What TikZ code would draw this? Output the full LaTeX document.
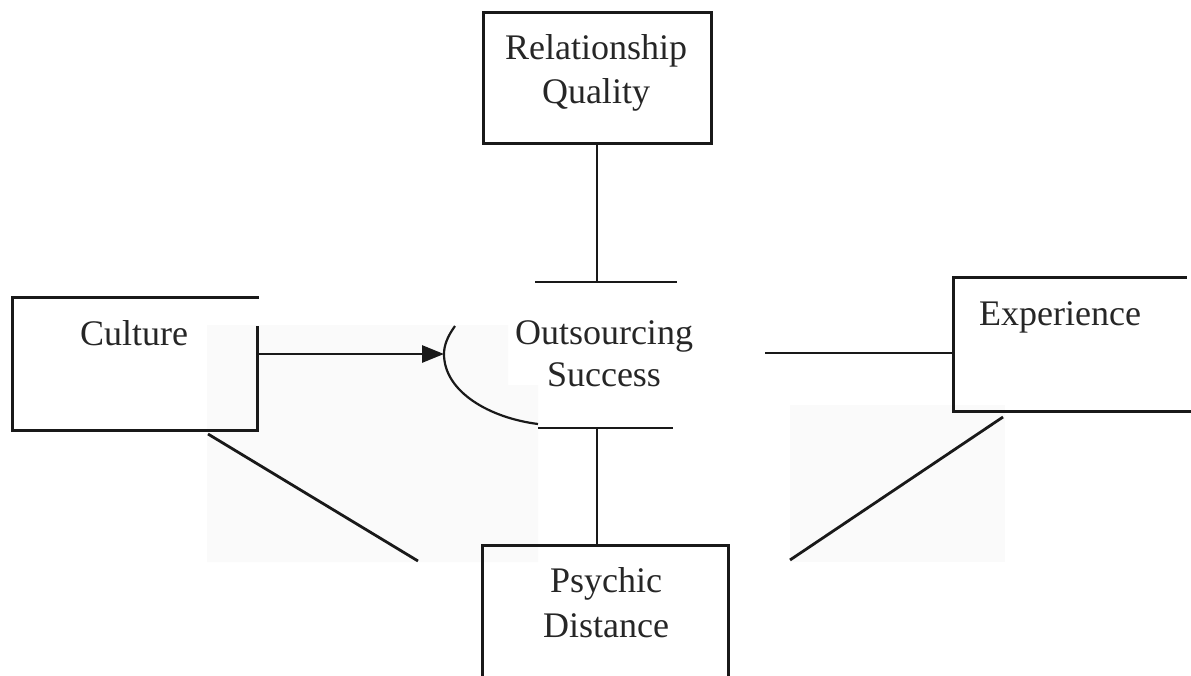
\documentclass[tikz,border=0pt]{standalone}
\usepackage{fontspec}
\setmainfont{Liberation Serif}
\usetikzlibrary{arrows.meta}
\begin{document}
\begin{tikzpicture}[x=1pt,y=-1pt,
  boxline/.style={line width=3pt,line cap=rect,black!90},
  conn/.style={line width=2.8pt,black!90},
  patch/.style={fill=black!2,draw=none},
  lbl/.style={anchor=base,inner sep=0pt,font=\fontsize{36}{44}\selectfont,text=black!85}]
\useasboundingbox (0,0) rectangle (1191,675);
% faint background patches
\fill[patch] (207,325) -- (508,325) -- (508,385) -- (538,385) -- (538,562) -- (207,562) -- cycle;
\fill[patch] (790,405) rectangle (1005,562);
% Relationship Quality box
\draw[boxline] (483,12) rectangle (711,143);
\coordinate (rqb) at (597,143);
\node[lbl] (rq1) at (596,59) {Relationship};
\node[lbl] (rq2) at (596,103) {Quality};
% Culture box (partial)
\draw[boxline] (257,297) -- (12,297) -- (12,430) -- (257,430) -- (257,327);
\coordinate (cr) at (257,354);
\coordinate (cbl) at (208,434);
\node[lbl] (cu) at (134,345) {Culture};
% Experience box (partial)
\draw[boxline] (1185,277) -- (953,277) -- (953,411) -- (1191,411);
\coordinate (el) at (953,353);
\coordinate (ebl) at (1003,417);
\node[lbl] (ex) at (1060,325) {Experience};
% Psychic Distance box (cut at the bottom)
\draw[boxline] (482,680) -- (482,545) -- (728,545) -- (728,680);
\coordinate (pt) at (597,545);
\node[lbl] (pd1) at (606,592) {Psychic};
\node[lbl] (pd2) at (606,637) {Distance};
% Outsourcing Success
\node[lbl] (os1) at (604,344) {Outsourcing};
\node[lbl] (os2) at (604,386) {Success};
\coordinate (tbl) at (535,282);
\coordinate (tbr) at (677,282);
\coordinate (ttop) at (597,282);
\coordinate (bbl) at (538,428);
\coordinate (bbr) at (673,428);
\coordinate (bbot) at (597,428);
\coordinate (arcTop) at (455,326);
\coordinate (arcL) at (444,354);
\coordinate (arcEnd) at (538,424);
% T bars
\draw[conn] (tbl) -- (tbr);
\draw[conn] (bbl) -- (bbr);
\draw[conn] (rqb) -- (ttop);
\draw[conn] (bbot) -- (pt);
% curved bracket
\draw[line width=2.2pt,black!90] (arcTop) .. controls (447,337) and (444,346) .. (arcL)
  .. controls (444,392) and (490,418) .. (arcEnd);
% arrow from Culture
\draw[conn,-{Triangle[length=22pt,width=17pt]}] (cr) -- (arcL);
% Experience connector
\coordinate (el2) at (765,353);
\draw[conn] (el2) -- (el);
% diagonals
\coordinate (cpd) at (418,561);
\coordinate (epd) at (790,560);
\draw[conn] (cbl) -- (cpd);
\draw[conn] (ebl) -- (epd);
\end{tikzpicture}
\end{document}
